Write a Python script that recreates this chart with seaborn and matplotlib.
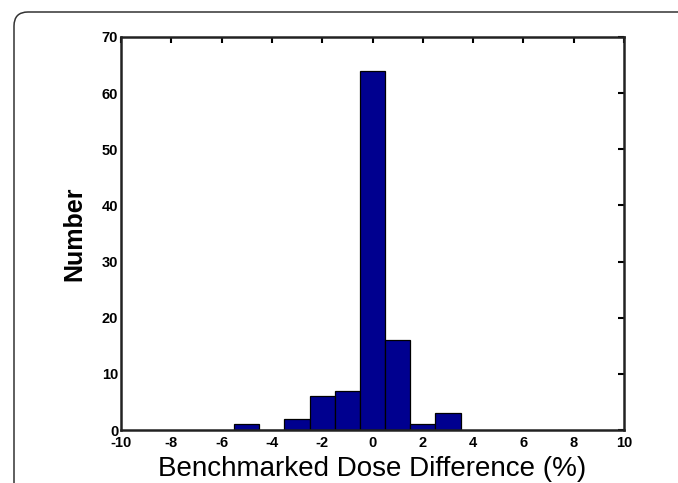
import numpy as np
import pandas as pd
import matplotlib
matplotlib.use("Agg")
import matplotlib.pyplot as plt
import seaborn as sns
from matplotlib.patches import FancyBboxPatch
from matplotlib.transforms import IdentityTransform

# Data (bin centers in %, counts)
bin_centers = [-5, -4, -3, -2, -1, 0, 1, 2, 3]
counts = [1, 0, 2, 6, 7, 64, 16, 1, 3]
x_ticks = [-10, -8, -6, -4, -2, 0, 2, 4, 6, 8, 10]
y_ticks = [0, 10, 20, 30, 40, 50, 60, 70]
x_label = "Benchmarked Dose Difference (%)"
y_label = "Number"

sns.set_style("white")
plt.rcParams['font.family'] = ['Liberation Sans', 'DejaVu Sans']
plt.rcParams['text.color'] = 'black'
plt.rcParams['axes.labelcolor'] = 'black'
plt.rcParams['xtick.color'] = 'black'
plt.rcParams['ytick.color'] = 'black'

df = pd.DataFrame({"diff": bin_centers, "n": counts})

fig = plt.figure(figsize=(6.78, 4.83), dpi=100)
ax = fig.add_axes([121/678, 1-430/483, (624-121)/678, (430-37)/483])

sns.histplot(data=df, x="diff", weights="n", binwidth=1.0, binrange=(-5.5, 3.5),
             color="#00008f", edgecolor="black", linewidth=0.9, alpha=1.0, ax=ax)

ax.set_xlim(-10, 10)
ax.set_ylim(0, 70)
ax.set_xticks(x_ticks)
ax.set_yticks(y_ticks)
ax.set_xticklabels([str(t) for t in x_ticks], fontweight="bold", fontsize=10.5)
ax.set_yticklabels([str(t) for t in y_ticks], fontweight="bold", fontsize=10.5)
ax.tick_params(direction="in", length=4.5, width=1.5, top=True, right=True,
               labeltop=False, labelright=False, pad=2, colors="black")
ax.tick_params(axis="x", pad=4.5)
for s in ax.spines.values():
    s.set_visible(True)
    s.set_linewidth(1.8)
    s.set_color("#222222")

ax.set_xlabel(x_label, fontsize=20)
ax.set_ylabel(y_label, fontsize=18, fontweight="bold")
ax.xaxis.set_label_coords(0.5, -0.066)
ax.yaxis.set_label_coords(-0.068, 0.5)

# card border (rounded top-left corner, extends past right and bottom edges)
card = FancyBboxPatch((14, -30), 720, 483 - 12 + 30, boxstyle="round,pad=0,rounding_size=14",
                      transform=IdentityTransform(), fill=False, edgecolor="#333333",
                      linewidth=1.1)
fig.patches.append(card)

fig.savefig("out.png", dpi=100)
